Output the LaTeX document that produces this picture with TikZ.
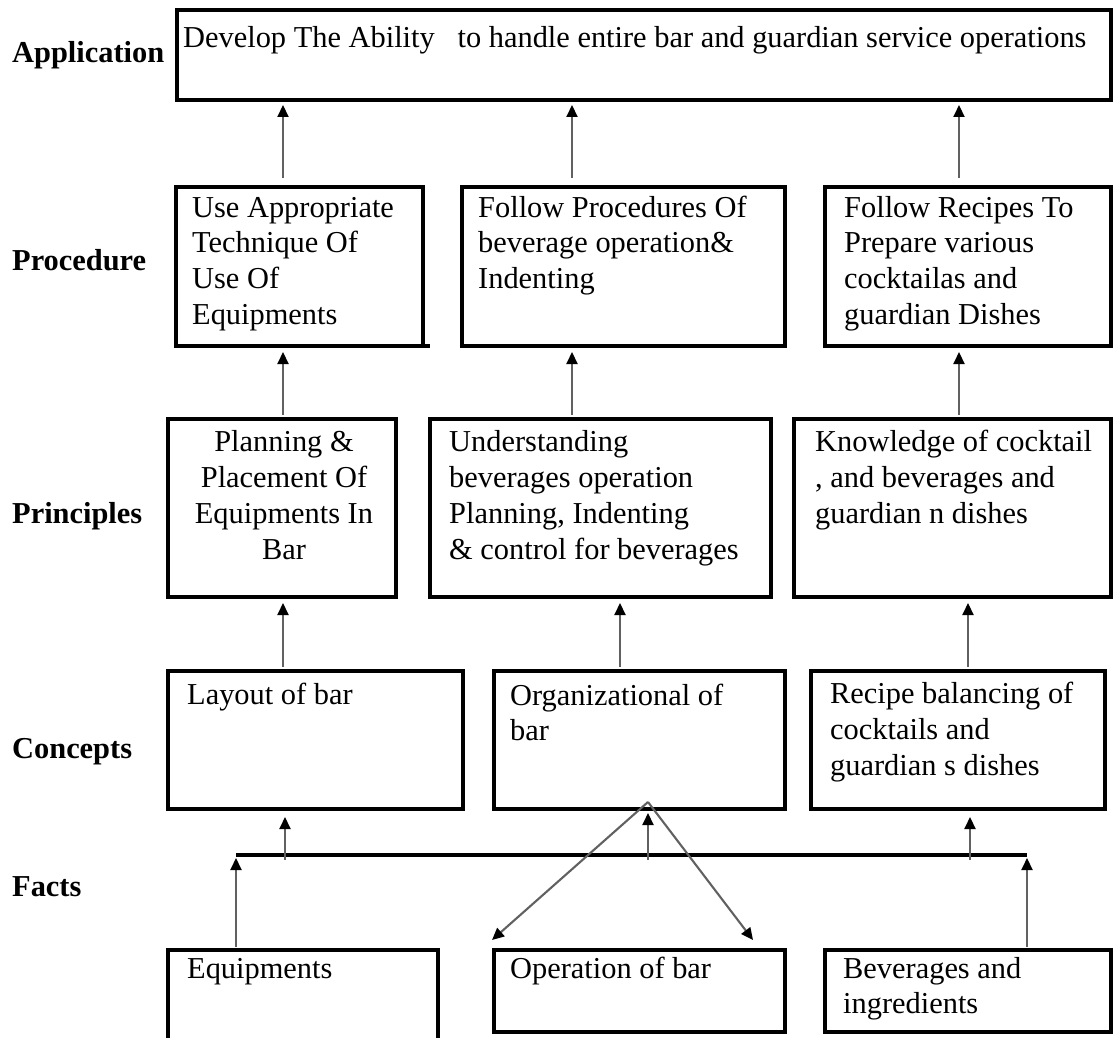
\documentclass[tikz,border=0pt]{standalone}
\usepackage{fontspec}
\setmainfont{Liberation Serif}
\usetikzlibrary{arrows.meta}
\begin{document}
\begin{tikzpicture}[x=1pt,y=-1pt,
  box/.style={draw, line width=3.2pt, inner sep=0pt, outer sep=0pt, anchor=north west},
  txt/.style={inner sep=0pt, anchor=base west, font=\fontsize{30.4pt}{35.7pt}\selectfont},
  lvl/.style={inner sep=0pt, anchor=base west, font=\fontsize{30.4pt}{35.7pt}\selectfont\bfseries},
  arr/.style={draw=black!62, line width=2.1pt, -{Triangle[length=12pt,width=11pt,color=black]}},
  bar/.style={draw, line width=3.2pt},
]
\useasboundingbox (0,0) rectangle (1114,1038);

% level labels
\node[lvl] (lApp)  at (12,63)  {Application};
\node[lvl] (lProc) at (12,270) {Procedure};
\node[lvl] (lPrin) at (12,523) {Principles};
\node[lvl] (lConc) at (12,758) {Concepts};
\node[lvl] (lFact) at (12,896) {Facts};

% boxes
\node[box, minimum width=934pt, minimum height=90pt]  (app) at (177,10) {};
\node[box, minimum width=247pt, minimum height=159pt] (p1) at (176,187) {};
\node[box, minimum width=323pt, minimum height=159pt] (p2) at (462,187) {};
\node[box, minimum width=286pt, minimum height=159pt] (p3) at (825,187) {};
\node[box, minimum width=228pt, minimum height=178pt] (r1) at (168,419) {};
\node[box, minimum width=341pt, minimum height=178pt] (r2) at (430,419) {};
\node[box, minimum width=317pt, minimum height=178pt] (r3) at (794,419) {};
\node[box, minimum width=295pt, minimum height=138pt] (c1) at (168,671) {};
\node[box, minimum width=291pt, minimum height=138pt] (c2) at (494,671) {};
\node[box, minimum width=294pt, minimum height=138pt] (c3) at (811,671) {};
\node[box, minimum width=270pt, minimum height=100pt] (f1) at (168,950) {};
\node[box, minimum width=291pt, minimum height=82pt]  (f2) at (494,950) {};
\node[box, minimum width=286pt, minimum height=82pt]  (f3) at (825,950) {};
\draw[line width=3.2pt] (p1.south east) -- ++(7,0);

% box texts
\node[txt] (appT) at (183,48) {Develop The Ability\ \ \ to handle entire bar and guardian service operations};
\node[txt] (p1T) at (192,217) {\parbox[t]{300pt}{\raggedright Use Appropriate\\Technique Of\\Use Of\\Equipments}};
\node[txt] (p2T) at (478,217) {\parbox[t]{320pt}{\raggedright Follow Procedures Of\\beverage operation\&\\Indenting}};
\node[txt] (p3T) at (844,217) {\parbox[t]{300pt}{\raggedright Follow Recipes To\\Prepare various\\cocktailas and\\guardian Dishes}};
\node[txt, anchor=base] (r1T) at (284,451) {\parbox[t]{228pt}{\centering\baselineskip=36pt Planning \&\\Placement Of\\Equipments In\\Bar}};
\node[txt] (r2T) at (449,451) {\parbox[t]{340pt}{\raggedright\baselineskip=36pt Understanding\\beverages operation\\Planning, Indenting\\\& control for beverages}};
\node[txt] (r3T) at (815,451) {\parbox[t]{320pt}{\raggedright\baselineskip=36pt Knowledge of cocktail\\, and beverages and\\guardian n dishes}};
\node[txt] (c1T) at (187,704) {Layout of bar};
\node[txt] (c2T) at (510,705) {\parbox[t]{300pt}{\raggedright Organizational of\\bar}};
\node[txt] (c3T) at (830,703) {\parbox[t]{300pt}{\raggedright\baselineskip=36pt Recipe balancing of\\cocktails and\\guardian s dishes}};
\node[txt] (f1T) at (187,978) {Equipments};
\node[txt] (f2T) at (510,978) {Operation of bar};
\node[txt] (f3T) at (843,978) {\parbox[t]{300pt}{\raggedright\baselineskip=35pt Beverages and\\ingredients}};

% column positions of the connectors
\coordinate (xA) at (283,0);
\coordinate (xB) at (572,0);
\coordinate (xC) at (959,0);
\coordinate (xD) at (620,0);
\coordinate (xE) at (968,0);
\coordinate (xF) at (285,0);
\coordinate (xG) at (648,0);
\coordinate (xH) at (970,0);

% procedure -> application
\draw[arr, shorten <=9pt, shorten >=5pt] (xA |- p1.north) -- (xA |- app.south);
\draw[arr, shorten <=9pt, shorten >=5pt] (xB |- p2.north) -- (xB |- app.south);
\draw[arr, shorten <=9pt, shorten >=5pt] (xC |- p3.north) -- (xC |- app.south);

% principles -> procedure
\draw[arr, shorten <=4pt, shorten >=6pt] (xA |- r1.north) -- (xA |- p1.south);
\draw[arr, shorten <=4pt, shorten >=6pt] (xB |- r2.north) -- (xB |- p2.south);
\draw[arr, shorten <=4pt, shorten >=6pt] (xC |- r3.north) -- (xC |- p3.south);

% concepts -> principles
\draw[arr, shorten <=4pt, shorten >=6pt] (xA |- c1.north) -- (xA |- r1.south);
\draw[arr, shorten <=4pt, shorten >=6pt] (xD |- c2.north) -- (xD |- r2.south);
\draw[arr, shorten <=4pt, shorten >=6pt] (xE |- c3.north) -- (xE |- r3.south);

% facts collector bar
\coordinate (barL) at (236,855);
\coordinate (barR) at (1027,855);
\draw[bar] (barL) -- (barR);

% bar -> concepts
\draw[arr, shorten <=-5pt, shorten >=8pt] (xF |- barL) -- (xF |- c1.south);
\draw[arr, shorten <=-5pt, shorten >=4pt] (xG |- barL) -- (xG |- c2.south);
\draw[arr, shorten <=-5pt, shorten >=8pt] (xH |- barL) -- (xH |- c3.south);

% facts -> bar
\draw[arr, shorten <=3pt, shorten >=3pt] (barL |- f1.north) -- (barL);
\draw[arr, shorten <=3pt, shorten >=3pt] (barR |- f3.north) -- (barR);

% organisation fans out to the operations
\coordinate (apex) at (648,802);
\coordinate (opL) at (492,940);
\coordinate (opR) at (753,940);
\draw[arr] (apex) -- (opL);
\draw[arr] (apex) -- (opR);
\end{tikzpicture}
\end{document}
